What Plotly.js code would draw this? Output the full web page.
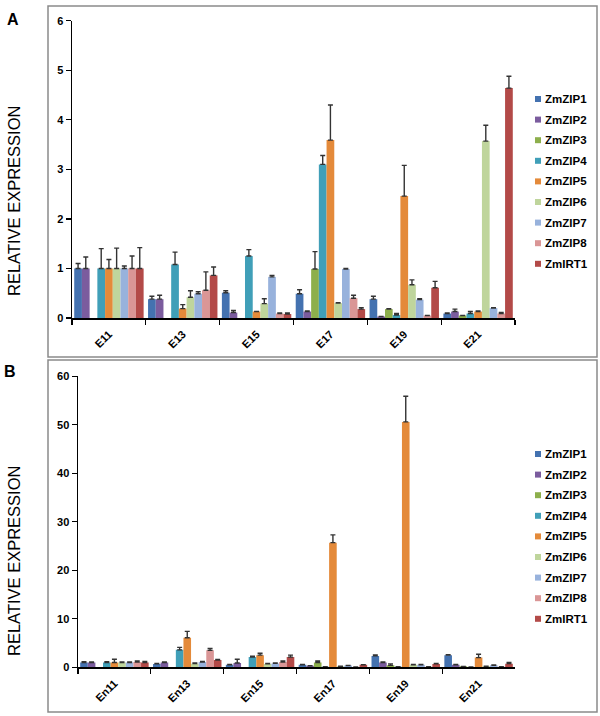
<!DOCTYPE html>
<html>
<head>
<meta charset="utf-8">
<script src="https://cdn.plot.ly/plotly-3.0.1.min.js"></script>
<style>html,body{margin:0;padding:0;background:#fff;}#chart{width:600px;height:716px;}</style>
</head>
<body>
<div id="chart"></div>
<script>
// ---------- DATA ----------
const genes = ["ZmZIP1","ZmZIP2","ZmZIP3","ZmZIP4","ZmZIP5","ZmZIP6","ZmZIP7","ZmZIP8","ZmIRT1"];
const stagesA = ["E11","E13","E15","E17","E19","E21"];
const stagesB = ["En11","En13","En15","En17","En19","En21"];

// Panel A: embryo relative expression (per gene, across stagesA)
const valuesA = [
  [1.00, 0.38, 0.51, 0.49, 0.38, 0.09],
  [1.00, 0.38, 0.11, 0.13, 0.03, 0.13],
  [null, null, null, 0.99, 0.18, 0.05],
  [1.00, 1.08, 1.25, 3.10, 0.06, 0.09],
  [1.00, 0.19, 0.13, 3.59, 2.46, 0.13],
  [1.00, 0.42, 0.29, 0.30, 0.67, 3.57],
  [1.00, 0.49, 0.83, 0.99, 0.37, 0.20],
  [1.00, 0.56, 0.09, 0.40, 0.05, 0.09],
  [1.00, 0.86, 0.08, 0.18, 0.61, 4.64]
];
const errorsA = [
  [0.10, 0.06, 0.04, 0.08, 0.06, 0.01],
  [0.23, 0.08, 0.04, 0.01, 0.00, 0.05],
  [0.00, 0.00, 0.00, 0.35, 0.01, 0.00],
  [0.40, 0.25, 0.13, 0.18, 0.03, 0.04],
  [0.18, 0.08, 0.00, 0.71, 0.62, 0.01],
  [0.41, 0.13, 0.10, 0.01, 0.10, 0.32],
  [0.05, 0.04, 0.03, 0.01, 0.02, 0.01],
  [0.25, 0.37, 0.01, 0.06, 0.00, 0.02],
  [0.42, 0.17, 0.02, 0.03, 0.13, 0.24]
];

// Panel B: endosperm relative expression (per gene, across stagesB)
const valuesB = [
  [1.0, 0.7, 0.5, 0.5, 2.35, 2.5],
  [1.0, 1.0, 0.9, 0.3, 1.0, 0.5],
  [null, null, null, 1.0, 0.4, 0.2],
  [1.0, 3.6, 2.1, 0.1, 0.1, 0.05],
  [1.0, 6.1, 2.5, 25.7, 50.6, 2.0],
  [1.0, 0.75, 0.7, 0.2, 0.5, 0.2],
  [1.0, 1.1, 0.8, 0.35, 0.5, 0.4],
  [1.1, 3.5, 1.1, 0.05, 0.1, 0.1],
  [1.0, 1.5, 2.1, 0.5, 0.7, 0.75]
];
const errorsB = [
  [0.15, 0.1, 0.1, 0.1, 0.2, 0.1],
  [0.1, 0.1, 0.75, 0.05, 0.1, 0.1],
  [0.0, 0.0, 0.0, 0.3, 0.3, 0.0],
  [0.15, 0.5, 0.2, 0.0, 0.0, 0.0],
  [0.65, 1.3, 0.4, 1.6, 5.3, 0.7],
  [0.1, 0.15, 0.1, 0.05, 0.1, 0.05],
  [0.1, 0.1, 0.1, 0.05, 0.1, 0.1],
  [0.2, 0.4, 0.2, 0.0, 0.0, 0.0],
  [0.2, 0.1, 0.4, 0.05, 0.1, 0.25]
];

const colors = ["#4472B0","#7B5C9E","#8DAF4C","#409FB8","#E48A3A","#BFD59C","#98B2DC","#DA9696","#B34A48"];

// ---------- BUILD ----------
const W = 600, H = 716;
const px = x => x / W;
const py = y => 1 - y / H;
const FONT = "Liberation Sans, Arial, sans-serif";

const traces = [];
function addPanel(stages, vals, errs, xa, ya) {
  genes.forEach((g, i) => {
    traces.push({
      type: "bar", name: g, x: stages, y: vals[i],
      xaxis: xa, yaxis: ya, showlegend: false,
      marker: {color: colors[i], line: {width: 0}},
      error_y: {type: "data", symmetric: false, array: errs[i],
                arrayminus: errs[i].map(() => 0),
                color: "#333", thickness: 1.4, width: 2.5}
    });
  });
}
addPanel(stagesA, valuesA, errorsA, "x", "y");
addPanel(stagesB, valuesB, errorsB, "x2", "y2");

const axisCommon = {
  showgrid: false, zeroline: false, showline: true, linecolor: "#000", linewidth: 1.5,
  ticks: "outside", ticklen: 5, tickwidth: 1.2, tickcolor: "#000",
  tickfont: {family: FONT, size: 11, color: "#000", weight: "bold"}
};

const shapes = [
  {type: "rect", xref: "paper", yref: "paper", x0: px(48), x1: px(597), y0: py(357), y1: py(6),
   line: {color: "#8a8a8a", width: 1.5}},
  {type: "rect", xref: "paper", yref: "paper", x0: px(48), x1: px(597), y0: py(712), y1: py(360),
   line: {color: "#8a8a8a", width: 1.5}}
];
const C = {xanchor: "center", yanchor: "middle", xref: "paper", yref: "paper", showarrow: false};
const annotations = [
  Object.assign({text: "<b>A</b>", x: px(13), y: py(19),
   font: {family: FONT, size: 16, color: "#000"}}, C),
  Object.assign({text: "<b>B</b>", x: px(10), y: py(372),
   font: {family: FONT, size: 16, color: "#000"}}, C),
  Object.assign({text: "RELATIVE EXPRESSION", x: px(14), y: py(201), textangle: -90,
   font: {family: FONT, size: 16.5, color: "#000"}}, C),
  Object.assign({text: "RELATIVE EXPRESSION", x: px(14), y: py(561), textangle: -90,
   font: {family: FONT, size: 16.5, color: "#000"}}, C)
];
// legends (one per panel)
[99, 454].forEach(top => {
  genes.forEach((g, i) => {
    const yy = top + i * 20.6;
    shapes.push({type: "rect", xref: "paper", yref: "paper",
      x0: px(535), x1: px(541), y0: py(yy + 3), y1: py(yy - 3),
      fillcolor: colors[i], line: {width: 0}});
    annotations.push({text: "<b>" + g + "</b>", xref: "paper", yref: "paper",
      x: px(543), y: py(yy), xanchor: "left", yanchor: "middle", showarrow: false,
      font: {family: FONT, size: 11.5, color: "#000"}});
  });
});

const layout = {
  width: W, height: H, margin: {l: 0, r: 0, t: 0, b: 0},
  paper_bgcolor: "#fff", plot_bgcolor: "rgba(0,0,0,0)",
  barmode: "group", bargap: 0.06, bargroupgap: 0,
  showlegend: false,
  xaxis: Object.assign({}, axisCommon, {domain: [px(72), px(515)], anchor: "y",
    type: "category", tickson: "boundaries", tickangle: -45, ticklabelstandoff: 4}),
  yaxis: Object.assign({}, axisCommon, {domain: [py(318), py(20.7)], anchor: "x",
    range: [0, 6], dtick: 1, tickformat: "d"}),
  xaxis2: Object.assign({}, axisCommon, {domain: [px(78), px(515)], anchor: "y2",
    type: "category", tickson: "boundaries", tickangle: -45, ticklabelstandoff: 4}),
  yaxis2: Object.assign({}, axisCommon, {domain: [py(667.3), py(376.3)], anchor: "x2",
    range: [0, 60], dtick: 10, tickformat: "d"}),
  shapes: shapes, annotations: annotations
};

Plotly.newPlot("chart", traces, layout, {staticPlot: true, displayModeBar: false});
</script>
</body>
</html>
